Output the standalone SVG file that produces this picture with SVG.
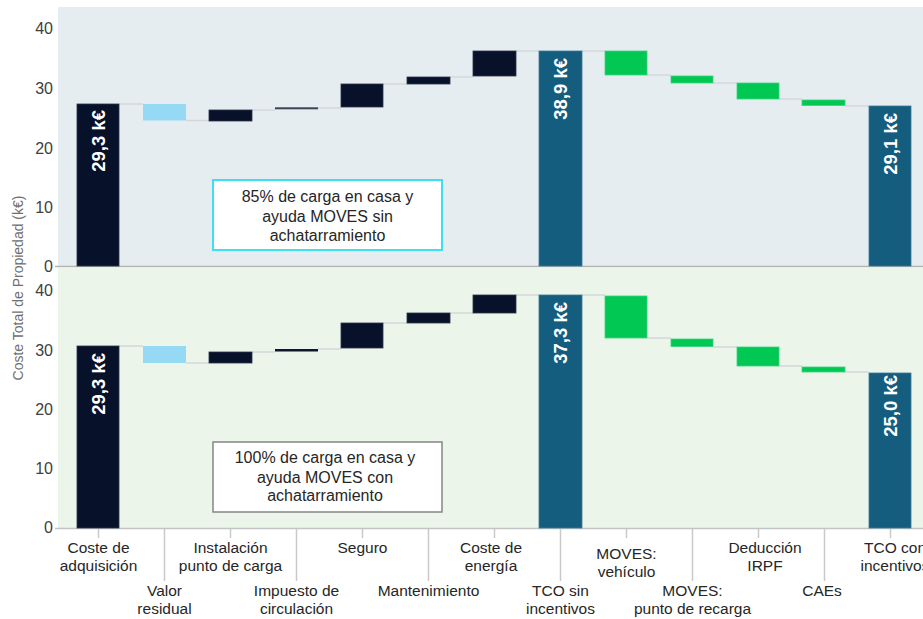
<svg xmlns="http://www.w3.org/2000/svg" width="923" height="619" viewBox="0 0 923 619">
<style>
text{font-family:"Liberation Sans",Arial,sans-serif}
.nv{fill:#08112a;stroke:#2a3348;stroke-width:0.8}
.lb{fill:#95d9f5}
.gr{fill:#00c853;stroke:#3ad27a;stroke-width:0.8}
.tc{fill:#155d7e;stroke:#3b7a97;stroke-width:0.8}
.val{fill:#fff;font-weight:bold;font-size:18.5px;text-anchor:end}
.ax{fill:#404040;font-size:16px;text-anchor:end}
.cat{fill:#262626;font-size:15.5px;text-anchor:middle}
.box{fill:#262626;font-size:16px;text-anchor:middle}
.con line{stroke:#d3d7db;stroke-width:1.5}
.tk{stroke:#c9c9c9;stroke-width:1.5}
</style>
<rect width="923" height="619" fill="#fff"/>
<!-- panels -->
<rect x="58" y="7" width="865" height="259" fill="#e6edf1"/>
<rect x="58" y="268" width="865" height="260" fill="#ebf5ea"/>
<line x1="55" y1="266.5" x2="923" y2="266.5" stroke="#b4b4b4" stroke-width="1.5"/>
<line x1="55" y1="528.5" x2="923" y2="528.5" stroke="#c4c4c4" stroke-width="1.5"/>
<!-- y axis labels -->
<g id="yaxis">
<text class="ax" x="53" y="34">40</text>
<text class="ax" x="53" y="94">30</text>
<text class="ax" x="53" y="154">20</text>
<text class="ax" x="53" y="213">10</text>
<text class="ax" x="53" y="272">0</text>
<text class="ax" x="53" y="296">40</text>
<text class="ax" x="53" y="356">30</text>
<text class="ax" x="53" y="415">20</text>
<text class="ax" x="53" y="474">10</text>
<text class="ax" x="53" y="533">0</text>
<text transform="translate(23,288) rotate(-90)" fill="#6f6f6f" font-size="14" text-anchor="middle">Coste Total de Propiedad (k€)</text>
</g>
<!-- connectors -->
<g id="connectors" class="con">
<line x1="119" y1="104" x2="143" y2="104"/>
<line x1="186" y1="120.5" x2="209" y2="120.5"/>
<line x1="252" y1="110" x2="275" y2="110"/>
<line x1="318" y1="108" x2="341" y2="108"/>
<line x1="383" y1="84" x2="407" y2="84"/>
<line x1="450" y1="77" x2="473" y2="77"/>
<line x1="516" y1="51" x2="539" y2="51"/>
<line x1="582" y1="51" x2="605" y2="51"/>
<line x1="647" y1="75" x2="671" y2="75"/>
<line x1="713" y1="83" x2="737" y2="83"/>
<line x1="779" y1="99" x2="802" y2="99"/>
<line x1="845" y1="106" x2="869" y2="106"/>
<line x1="119" y1="346" x2="143" y2="346"/>
<line x1="186" y1="363" x2="209" y2="363"/>
<line x1="252" y1="352" x2="275" y2="352"/>
<line x1="318" y1="349" x2="341" y2="349"/>
<line x1="383" y1="323" x2="407" y2="323"/>
<line x1="450" y1="313" x2="473" y2="313"/>
<line x1="516" y1="295" x2="539" y2="295"/>
<line x1="582" y1="295" x2="605" y2="295"/>
<line x1="647" y1="338" x2="671" y2="338"/>
<line x1="713" y1="347" x2="737" y2="347"/>
<line x1="779" y1="366" x2="802" y2="366"/>
<line x1="845" y1="372" x2="869" y2="372"/>
</g>
<!-- top panel bars -->
<g id="top-adquisicion"><rect class="nv" x="77" y="104" width="42" height="162"/><text class="val" transform="translate(104.5,110) rotate(-90)">29,3 k€</text></g>
<g id="top-valor-residual"><rect class="lb" x="143" y="104" width="43" height="16.5"/></g>
<g id="top-instalacion"><rect class="nv" x="209" y="110" width="43" height="11"/></g>
<g id="top-impuesto"><rect x="275" y="107.3" width="43" height="2" fill="#3a4257"/></g>
<g id="top-seguro"><rect class="nv" x="341" y="84" width="42" height="23"/></g>
<g id="top-mantenimiento"><rect class="nv" x="407" y="77" width="43" height="7"/></g>
<g id="top-energia"><rect class="nv" x="473" y="51" width="43" height="25"/></g>
<g id="top-tco-sin"><rect class="tc" x="539" y="51" width="43" height="215"/><text class="val" transform="translate(567,58) rotate(-90)">38,9 k€</text></g>
<g id="top-moves-vehiculo"><rect class="gr" x="605" y="51" width="42" height="24"/></g>
<g id="top-moves-punto"><rect class="gr" x="671" y="76" width="42" height="7"/></g>
<g id="top-irpf"><rect class="gr" x="737" y="83" width="42" height="16"/></g>
<g id="top-caes"><rect class="gr" x="802" y="100" width="43" height="5.5"/></g>
<g id="top-tco-con"><rect class="tc" x="869" y="106" width="42" height="160"/><text class="val" transform="translate(896.5,113) rotate(-90)">29,1 k€</text></g>
<g id="top-note"><rect x="213" y="180" width="229" height="70" fill="#fff" stroke="#3fe0ee" stroke-width="2"/>
<text class="box" x="327.5" y="202">85% de carga en casa y</text>
<text class="box" x="327.5" y="222">ayuda  MOVES sin</text>
<text class="box" x="327.5" y="241">achatarramiento</text></g>
<!-- bottom panel bars -->
<g id="bot-adquisicion"><rect class="nv" x="77" y="346" width="42" height="182"/><text class="val" transform="translate(104.5,353) rotate(-90)">29,3 k€</text></g>
<g id="bot-valor-residual"><rect class="lb" x="143" y="346" width="43" height="17"/></g>
<g id="bot-instalacion"><rect class="nv" x="209" y="352" width="43" height="11"/></g>
<g id="bot-impuesto"><rect x="275" y="349" width="43" height="2.5" fill="#0d1630"/></g>
<g id="bot-seguro"><rect class="nv" x="341" y="323" width="42" height="25"/></g>
<g id="bot-mantenimiento"><rect class="nv" x="407" y="313" width="43" height="10"/></g>
<g id="bot-energia"><rect class="nv" x="473" y="295" width="43" height="18"/></g>
<g id="bot-tco-sin"><rect class="tc" x="539" y="295" width="43" height="233"/><text class="val" transform="translate(567,302) rotate(-90)">37,3 k€</text></g>
<g id="bot-moves-vehiculo"><rect class="gr" x="605" y="296" width="42" height="42"/></g>
<g id="bot-moves-punto"><rect class="gr" x="671" y="339" width="42" height="7.5"/></g>
<g id="bot-irpf"><rect class="gr" x="737" y="347" width="42" height="19"/></g>
<g id="bot-caes"><rect class="gr" x="802" y="367" width="43" height="5"/></g>
<g id="bot-tco-con"><rect class="tc" x="869" y="373" width="42" height="155"/><text class="val" transform="translate(896.5,375) rotate(-90)">25,0 k€</text></g>
<g id="bot-note"><rect x="213" y="442" width="229" height="70" fill="#fff" stroke="#858585" stroke-width="1.5"/>
<text class="box" x="325" y="463">100% de carga  en casa y</text>
<text class="box" x="325" y="483">ayuda  MOVES con</text>
<text class="box" x="325" y="501">achatarramiento</text></g>
<!-- x axis -->
<g id="xaxis">
<line class="tk" x1="98.5" y1="529" x2="98.5" y2="538"/>
<line class="tk" x1="164.5" y1="529" x2="164.5" y2="581"/>
<line class="tk" x1="230.5" y1="529" x2="230.5" y2="538"/>
<line class="tk" x1="296.5" y1="529" x2="296.5" y2="581"/>
<line class="tk" x1="362.5" y1="529" x2="362.5" y2="538"/>
<line class="tk" x1="428.5" y1="529" x2="428.5" y2="581"/>
<line class="tk" x1="494.5" y1="529" x2="494.5" y2="538"/>
<line class="tk" x1="560.5" y1="529" x2="560.5" y2="581"/>
<line class="tk" x1="626.5" y1="529" x2="626.5" y2="538"/>
<line class="tk" x1="692.5" y1="529" x2="692.5" y2="581"/>
<line class="tk" x1="758.5" y1="529" x2="758.5" y2="538"/>
<line class="tk" x1="824.5" y1="529" x2="824.5" y2="581"/>
<line class="tk" x1="890.5" y1="529" x2="890.5" y2="538"/>
<text class="cat" x="98.5" y="553">Coste de</text>
<text class="cat" x="98.5" y="571">adquisición</text>
<text class="cat" x="164.5" y="596">Valor</text>
<text class="cat" x="164.5" y="614">residual</text>
<text class="cat" x="230.5" y="553">Instalación</text>
<text class="cat" x="230.5" y="571">punto de carga</text>
<text class="cat" x="296.5" y="596">Impuesto de</text>
<text class="cat" x="296.5" y="614">circulación</text>
<text class="cat" x="362.5" y="553">Seguro</text>
<text class="cat" x="428.5" y="596">Mantenimiento</text>
<text class="cat" x="491" y="553">Coste de</text>
<text class="cat" x="491" y="571">energía</text>
<text class="cat" x="560.5" y="596">TCO sin</text>
<text class="cat" x="560.5" y="614">incentivos</text>
<text class="cat" x="626.5" y="559">MOVES:</text>
<text class="cat" x="626.5" y="577">vehículo</text>
<text class="cat" x="692.5" y="596">MOVES:</text>
<text class="cat" x="692.5" y="614">punto de recarga</text>
<text class="cat" x="765" y="553">Deducción</text>
<text class="cat" x="765" y="571">IRPF</text>
<text class="cat" x="822" y="596">CAEs</text>
<text class="cat" x="895" y="553">TCO con</text>
<text class="cat" x="895" y="571">incentivos</text>
</g>
</svg>
